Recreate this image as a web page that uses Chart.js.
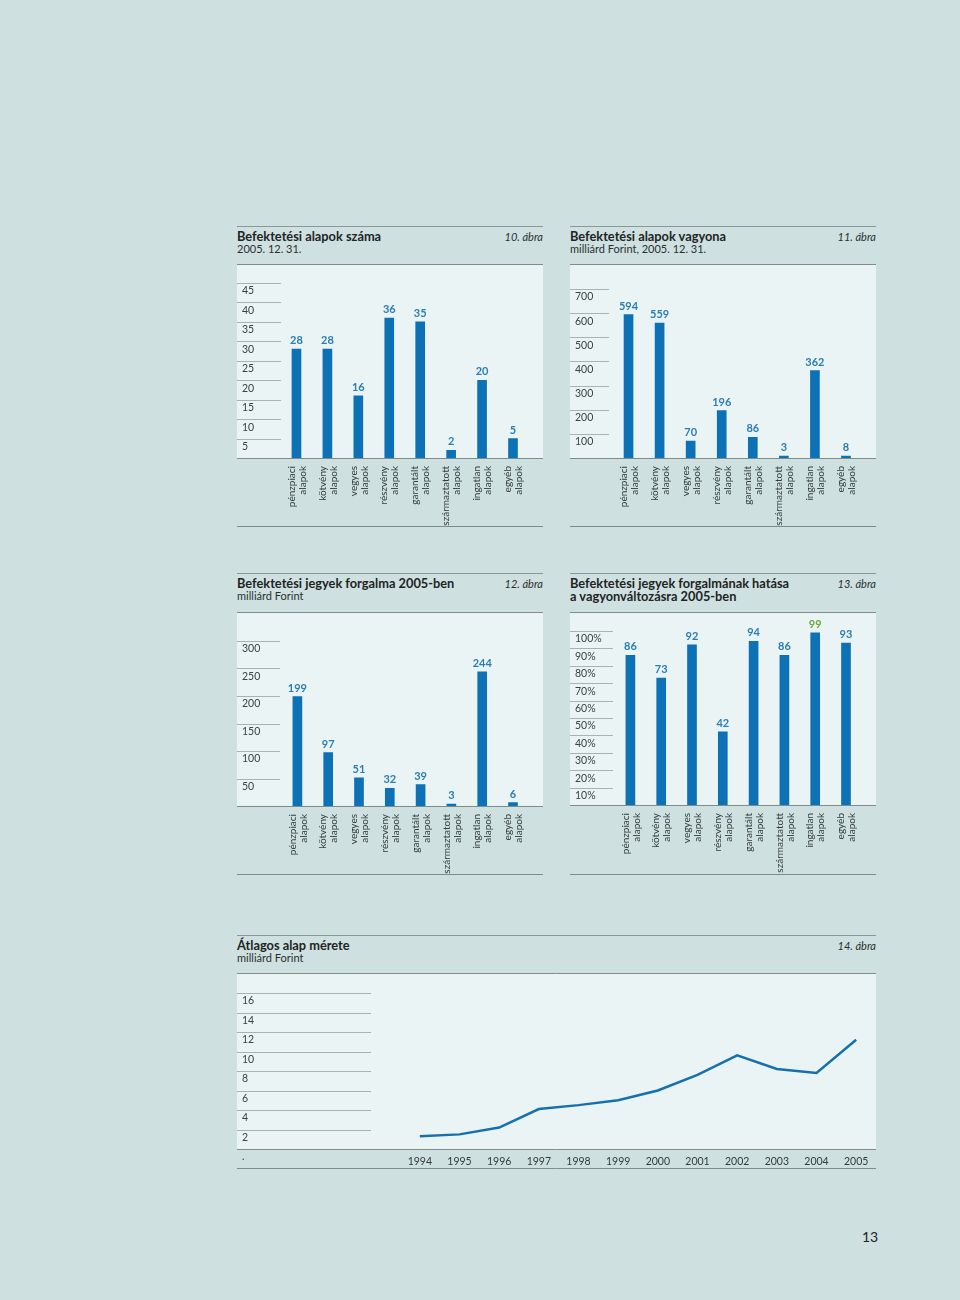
<!DOCTYPE html>
<html lang="hu">
<head>
<meta charset="utf-8">
<script src="https://cdn.jsdelivr.net/npm/chart.js@4"></script>
<style>
  body { margin: 0; background: #cee0e0; width: 960px; height: 1300px; position: relative; font-family: Lato, "Open Sans", sans-serif; color: #1e2424; overflow: hidden; }
  .head { position: absolute; border-top: 1px solid #8a9898; padding-top: 3px; line-height: 12.5px; }
  .head .t { font-weight: bold; font-size: 12.8px; }
  .head .s { font-size: 11px; color: #2a3030; }
  .head .n { position: absolute; right: 0; top: 4px; font-style: italic; font-size: 11px; color: #2a3030; }
  canvas { position: absolute; }
  .page { position: absolute; left: 862px; top: 1228px; font-size: 14px; color: #222; }
</style>
</head>
<body>

<div class="head" style="left:237px;top:226px;width:306px">
  <div class="t">Befektetési alapok száma</div>
  <div class="s">2005. 12. 31.</div>
  <div class="n">10. ábra</div>
</div>
<div class="head" style="left:570px;top:226px;width:306px">
  <div class="t">Befektetési alapok vagyona</div>
  <div class="s">milliárd Forint, 2005. 12. 31.</div>
  <div class="n">11. ábra</div>
</div>
<div class="head" style="left:237px;top:573px;width:306px">
  <div class="t">Befektetési jegyek forgalma 2005-ben</div>
  <div class="s">milliárd Forint</div>
  <div class="n">12. ábra</div>
</div>
<div class="head" style="left:570px;top:573px;width:306px">
  <div class="t">Befektetési jegyek forgalmának hatása<br>a vagyonváltozásra 2005-ben</div>
  <div class="n">13. ábra</div>
</div>
<div class="head" style="left:237px;top:935px;width:639px">
  <div class="t">Átlagos alap mérete</div>
  <div class="s">milliárd Forint</div>
  <div class="n">14. ábra</div>
</div>

<canvas id="c10" width="306" height="263" style="left:237px;top:264px"></canvas>
<canvas id="c11" width="306" height="263" style="left:570px;top:264px"></canvas>
<canvas id="c12" width="306" height="263" style="left:237px;top:612px"></canvas>
<canvas id="c13" width="306" height="263" style="left:570px;top:612px"></canvas>
<canvas id="c14" width="639" height="196" style="left:237px;top:973px"></canvas>

<div class="page">13</div>

<script>
const categories = [
    ['pénzpiaci', 'alapok'], ['kötvény', 'alapok'], ['vegyes', 'alapok'], ['részvény', 'alapok'],
    ['garantált', 'alapok'], ['származtatott', 'alapok'], ['ingatlan', 'alapok'], ['egyéb', 'alapok']
];
const fundCount = [28, 28, 16, 36, 35, 2, 20, 5];          // 10. ábra
const fundAssets = [594, 559, 70, 196, 86, 3, 362, 8];     // 11. ábra
const ticketTurnover = [199, 97, 51, 32, 39, 3, 244, 6];   // 12. ábra
const turnoverImpact = [86, 73, 92, 42, 94, 86, 99, 93];   // 13. ábra
const years = ['1994', '1995', '1996', '1997', '1998', '1999', '2000', '2001', '2002', '2003', '2004', '2005'];
const avgFundSize = [1.3, 1.5, 2.2, 4.1, 4.5, 5.0, 6.0, 7.6, 9.6, 8.2, 7.8, 11.2]; // 14. ábra

const PANEL_BG = '#eaf4f4';
const BAR_BLUE = '#0d71b6';
const LABEL_BLUE = '#2a7db6';
const LABEL_GREEN = '#66ad3e';
const RULE = '#7e8c8c';

Chart.defaults.font.family = 'Lato, "Open Sans", sans-serif';
Chart.defaults.font.size = 10.5;
Chart.defaults.color = '#333b3b';

// light panel above the baseline, short gridlines left of the plot, frame lines
const panelPlugin = {
    id: 'panel',
    beforeDraw(chart, args, opts) {
        const { ctx, chartArea, width } = chart;
        const y = chart.scales.y;
        ctx.save();
        ctx.fillStyle = PANEL_BG;
        ctx.fillRect(0, 0, width, chartArea.bottom);
        ctx.strokeStyle = '#a7b2b2';
        ctx.lineWidth = 1;
        y.ticks.forEach(t => {
            if (t.value === 0) return;
            const py = Math.round(y.getPixelForValue(t.value)) + 0.5;
            ctx.beginPath();
            ctx.moveTo(0, py);
            ctx.lineTo(opts.gridLength, py);
            ctx.stroke();
        });
        ctx.restore();
    },
    afterDraw(chart) {
        const { ctx, chartArea, width, height } = chart;
        ctx.save();
        ctx.strokeStyle = RULE;
        ctx.lineWidth = 1;
        [0.5, Math.round(chartArea.bottom) + 0.5, height - 0.5].forEach(py => {
            ctx.beginPath();
            ctx.moveTo(0, py);
            ctx.lineTo(width, py);
            ctx.stroke();
        });
        ctx.restore();
    }
};

// numbers on top of the bars
const valueLabels = {
    id: 'valueLabels',
    afterDatasetsDraw(chart, args, opts) {
        if (!opts.show) return;
        const { ctx } = chart;
        const meta = chart.getDatasetMeta(0);
        const data = chart.data.datasets[0].data;
        ctx.save();
        ctx.font = 'bold 11px Lato, "Open Sans", sans-serif';
        ctx.textAlign = 'center';
        ctx.textBaseline = 'bottom';
        meta.data.forEach((bar, i) => {
            ctx.fillStyle = opts.colors ? opts.colors[i] : LABEL_BLUE;
            ctx.fillText(data[i], bar.x, bar.y - 3);
        });
        ctx.restore();
    }
};

function barChart(id, values, cfg) {
    return new Chart(document.getElementById(id), {
        type: 'bar',
        data: {
            labels: categories,
            datasets: [{ data: values, backgroundColor: BAR_BLUE, barThickness: 9, minBarLength: 2 }]
        },
        options: {
            responsive: false,
            animation: false,
            layout: { padding: { top: cfg.top, left: 5, right: 0, bottom: 0 } },
            scales: {
                x: {
                    grid: { display: false, drawTicks: false },
                    border: { display: false },
                    ticks: {
                        autoSkip: false, maxRotation: 90, minRotation: 90, padding: 8,
                        labelOffset: -5, color: '#333b3b', font: { size: 10, lineHeight: 1.1 }
                    },
                    afterFit: s => { s.height = cfg.xHeight; }
                },
                y: {
                    min: 0, max: cfg.max,
                    grid: { display: false, drawTicks: false },
                    border: { display: false },
                    ticks: {
                        stepSize: cfg.step, autoSkip: false, crossAlign: 'far',
                        labelOffset: 8, padding: 0, color: '#3a4242',
                        callback: v => v === 0 ? '' : v + (cfg.suffix || '')
                    },
                    afterFit: s => { s.width = cfg.yWidth; }
                }
            },
            plugins: {
                legend: { display: false },
                tooltip: { enabled: false },
                panel: { gridLength: cfg.gridLength },
                valueLabels: { show: true, colors: cfg.colors }
            }
        },
        plugins: [panelPlugin, valueLabels]
    });
}

barChart('c10', fundCount, { top: 19, max: 45, step: 5, yWidth: 39, gridLength: 44, xHeight: 69 });
barChart('c11', fundAssets, { top: 25, max: 700, step: 100, yWidth: 38, gridLength: 39, xHeight: 69 });
barChart('c12', ticketTurnover, { top: 29, max: 300, step: 50, yWidth: 40, gridLength: 43, xHeight: 69 });
barChart('c13', turnoverImpact, {
    top: 19, max: 100, step: 10, yWidth: 40, gridLength: 43, xHeight: 70, suffix: '%',
    colors: turnoverImpact.map((v, i) => i === 6 ? LABEL_GREEN : LABEL_BLUE)
});

new Chart(document.getElementById('c14'), {
    type: 'line',
    data: {
        labels: years,
        datasets: [{
            data: avgFundSize, borderColor: '#1670ad', borderWidth: 2.5,
            pointRadius: 0, tension: 0, fill: false
        }]
    },
    options: {
        responsive: false,
        animation: false,
        layout: { padding: { top: 20, left: 5, right: 0, bottom: 0 } },
        scales: {
            x: {
                offset: true,
                grid: { display: false, drawTicks: false },
                border: { display: false },
                ticks: { autoSkip: false, maxRotation: 0, padding: 6, color: '#333b3b' },
                afterFit: s => { s.height = 20; }
            },
            y: {
                min: 0, max: 16,
                grid: { display: false, drawTicks: false },
                border: { display: false },
                ticks: {
                    stepSize: 2, autoSkip: false, crossAlign: 'far', labelOffset: 8,
                    padding: 0, color: '#3a4242',
                    callback: v => v === 0 ? '.' : v
                },
                afterFit: s => { s.width = 158; }
            }
        },
        plugins: {
            legend: { display: false },
            tooltip: { enabled: false },
            panel: { gridLength: 134 },
            valueLabels: { show: false }
        }
    },
    plugins: [panelPlugin, valueLabels]
});
</script>
</body>
</html>
